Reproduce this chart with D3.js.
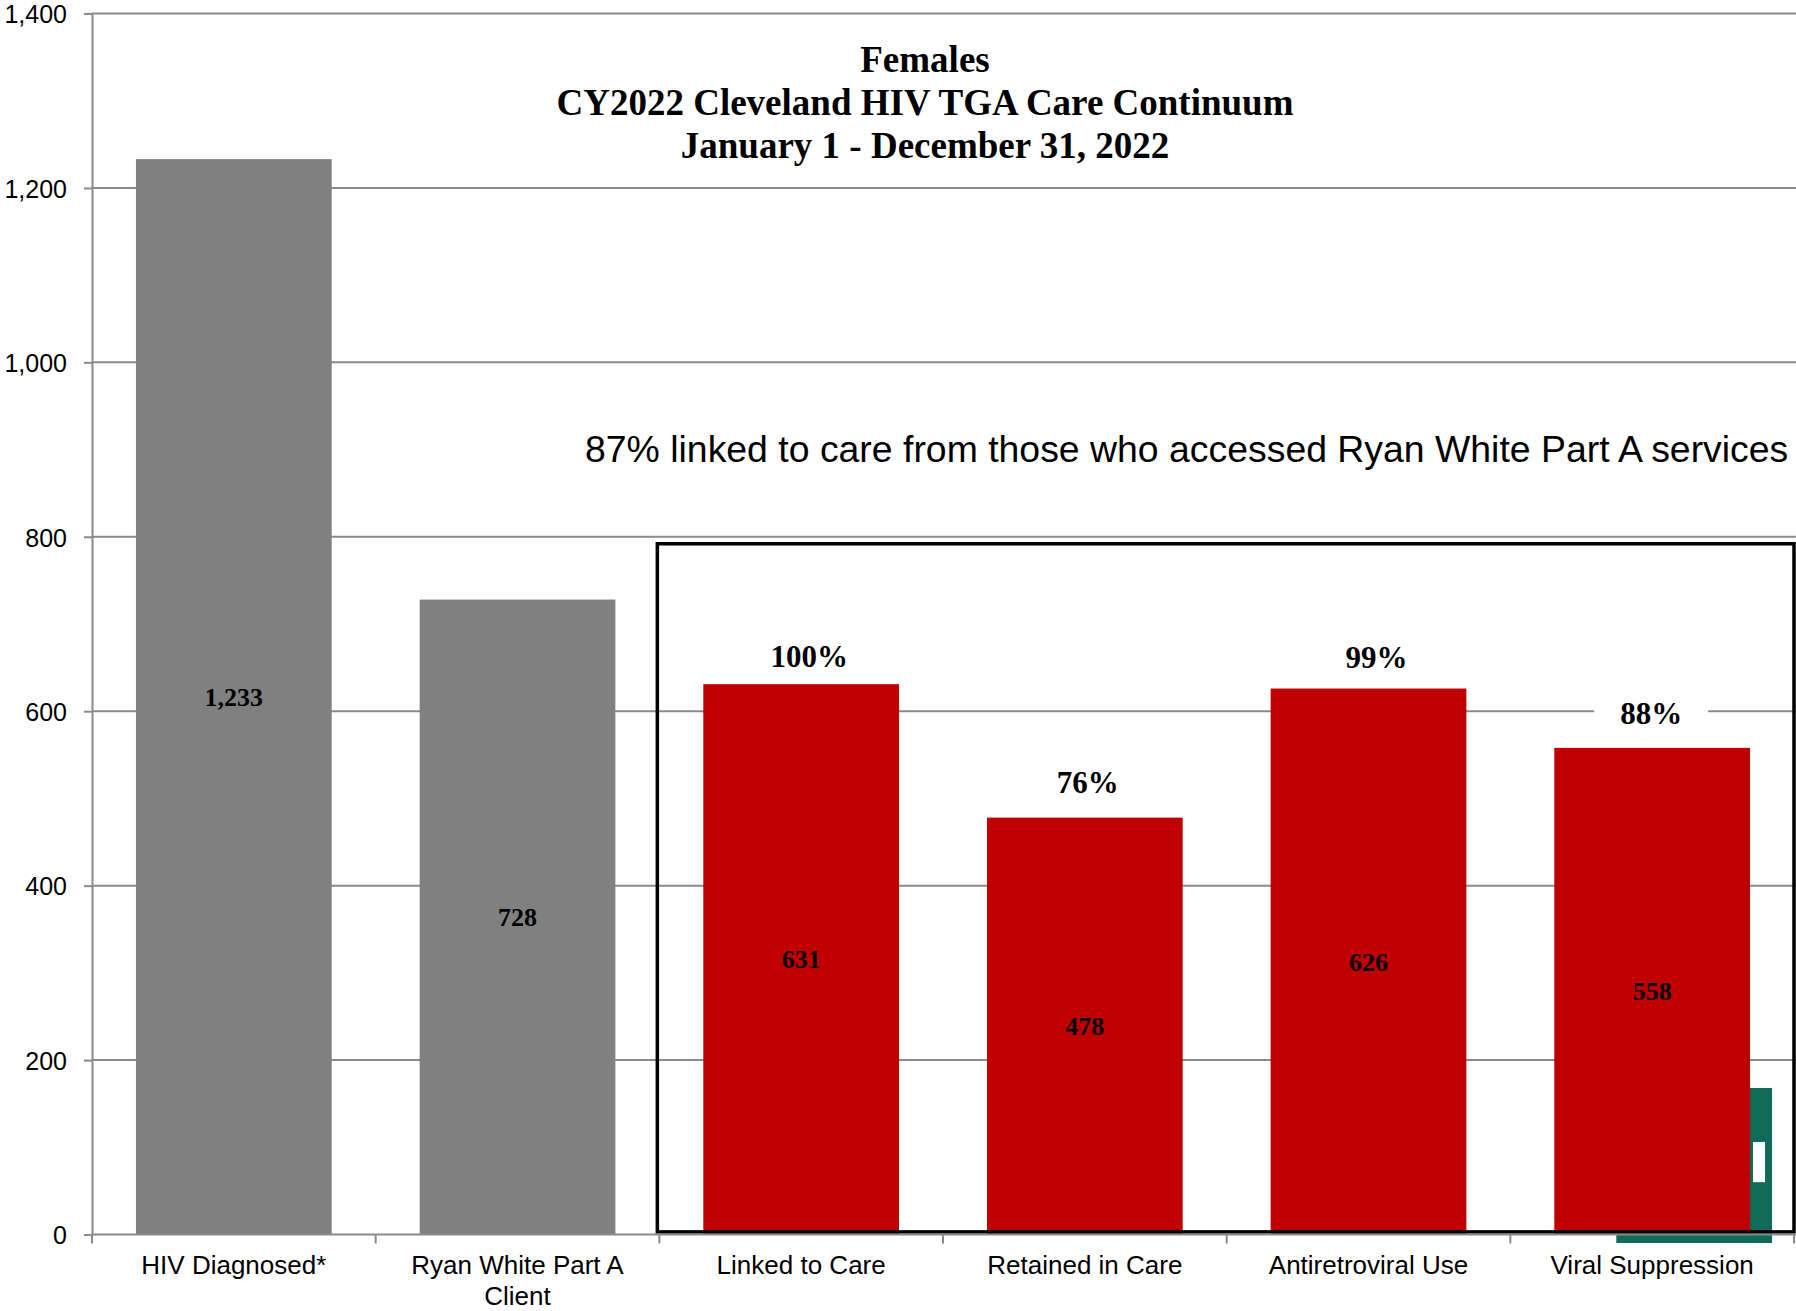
<!DOCTYPE html>
<html>
<head>
<meta charset="utf-8">
<script src="https://cdn.jsdelivr.net/npm/d3@7/dist/d3.min.js"></script>
<style>
  html, body { margin: 0; padding: 0; background: #fff; }
  svg { display: block; }
</style>
</head>
<body>
<div id="chart"></div>
<script>
// Care continuum stages and counts
const categories = ["HIV Diagnosed*", "Ryan White Part A\nClient", "Linked to Care",
                    "Retained in Care", "Antiretroviral Use", "Viral Suppression"];
const counts = [1233, 728, 631, 478, 626, 558];
const countLabels = ["1,233", "728", "631", "478", "626", "558"];
// Percentages shown above the Part A stages (null = no label)
const percents = [null, null, 100, 76, 99, 88];
const yTicks = [0, 200, 400, 600, 800, 1000, 1200, 1400];
const titleLines = ["Females", "CY2022 Cleveland HIV TGA Care Continuum", "January 1 - December 31, 2022"];
const note = "87% linked to care from those who accessed Ryan White Part A services";

(function () {
const W = 1796, H = 1311;
const plotL = 92, plotR = 1794, plotT = 13.5, plotB = 1234.5;
const GREY = "#808080", RED = "#c00000", GRID = "#8a8a8a";
const SANS = "'Liberation Sans', Arial, sans-serif";
const SERIF = "'Liberation Serif', 'Times New Roman', serif";
// hand-placed nudges for the percent call-outs
const pctNudge = {2: [8, 7], 3: [3, -1], 4: [8, 3], 5: [-1, 0]};

const svg = d3.select("#chart").append("svg").attr("width", W).attr("height", H);

const x = d3.scaleBand().domain(categories).range([plotL, plotR])
  .paddingInner(0.31).paddingOuter(0.155);
const y = d3.scaleLinear().domain([0, 1400]).range([plotB, plotT]);

// Horizontal gridlines
svg.append("g").selectAll("line").data(yTicks.filter(d => d > 0)).join("line")
  .attr("x1", plotL).attr("x2", W).attr("y1", d => y(d)).attr("y2", d => y(d))
  .attr("stroke", GRID).attr("stroke-width", 2);

// Y axis
const yAxis = svg.append("g").attr("transform", `translate(${plotL},0)`)
  .call(d3.axisLeft(y).tickValues(yTicks).tickSize(8).tickPadding(17).tickFormat(d3.format(",")));
yAxis.select(".domain").attr("stroke", GRID).attr("stroke-width", 2);
yAxis.selectAll(".tick line").attr("stroke", GRID).attr("stroke-width", 2);
yAxis.selectAll(".tick text").attr("font-family", SANS).attr("font-size", 25)
  .attr("dy", "0.37em").attr("fill", "#000");

// Green emblem sitting behind the last bar
const lastCat = categories[categories.length - 1];
const gx0 = x(lastCat) + 62, gx1 = x(lastCat) + x.bandwidth() + 22;
svg.append("rect").attr("x", gx0).attr("y", y(168)).attr("width", gx1 - gx0)
  .attr("height", plotB + 8.5 - y(168)).attr("fill", "#0f6b58");
svg.append("rect").attr("x", x(lastCat) + x.bandwidth() + 3).attr("y", y(106))
  .attr("width", 12).attr("height", y(60) - y(106)).attr("fill", "#fff");

// Bars
svg.append("g").selectAll("rect").data(counts).join("rect")
  .attr("x", (d, i) => x(categories[i])).attr("width", x.bandwidth())
  .attr("y", d => y(d)).attr("height", d => plotB - y(d))
  .attr("fill", (d, i) => i < 2 ? GREY : RED);

// Count labels centred in bars
svg.append("g").selectAll("text").data(counts).join("text")
  .attr("x", (d, i) => x(categories[i]) + x.bandwidth() / 2)
  .attr("y", d => (y(d) + plotB) / 2 + 9)
  .attr("text-anchor", "middle").attr("font-family", SERIF).attr("font-weight", "bold")
  .attr("font-size", 26).text((d, i) => countLabels[i]);

// Percent labels above bars (white backing)
const pg = svg.append("g").selectAll("g").data(percents.map((p, i) => ({p, i})).filter(d => d.p !== null))
  .join("g")
  .attr("transform", d => {
    const [dx, dy] = pctNudge[d.i] || [0, 0];
    return `translate(${x(categories[d.i]) + x.bandwidth() / 2 + dx},${y(counts[d.i]) - 24 + dy})`;
  });
pg.append("rect").attr("x", -57).attr("y", -32).attr("width", 114).attr("height", 40).attr("fill", "#fff");
pg.append("text").attr("text-anchor", "middle").attr("font-family", SERIF).attr("font-weight", "bold")
  .attr("font-size", 31).text(d => d.p + "%");

// Box framing the Part A stages
const bx0 = x(categories[2]) - x.step() * x.paddingInner() / 2 - 2;
svg.append("rect").attr("x", bx0).attr("y", y(792))
  .attr("width", plotR - bx0).attr("height", y(3) - y(792))
  .attr("fill", "none").attr("stroke", "#000").attr("stroke-width", 3.5);

// X axis baseline and ticks
svg.append("line").attr("x1", plotL).attr("x2", W).attr("y1", plotB).attr("y2", plotB)
  .attr("stroke", GRID).attr("stroke-width", 2);
const bounds = d3.range(categories.length + 1).map(i => plotL + i * x.step());
svg.append("g").selectAll("line").data(bounds).join("line")
  .attr("x1", d => d).attr("x2", d => d).attr("y1", plotB).attr("y2", plotB + 9)
  .attr("stroke", GRID).attr("stroke-width", 2);

// Category labels
const xl = svg.append("g").selectAll("text").data(categories).join("text")
  .attr("x", d => x(d) + x.bandwidth() / 2).attr("y", plotB + 39)
  .attr("text-anchor", "middle").attr("font-family", SANS).attr("font-size", 26);
xl.each(function(d) {
  const t = d3.select(this);
  d.split("\n").forEach((line, k) => {
    t.append("tspan").attr("x", x(d) + x.bandwidth() / 2).attr("dy", k === 0 ? 0 : 31).text(line);
  });
});

// Title
svg.append("g").selectAll("text").data(titleLines).join("text")
  .attr("x", 925).attr("y", (d, i) => 72 + i * 43)
  .attr("text-anchor", "middle").attr("font-family", SERIF).attr("font-weight", "bold")
  .attr("font-size", 37).text(d => d);

// Annotation
svg.append("text").attr("x", 585).attr("y", 462)
  .attr("font-family", SANS).attr("font-size", 37.4).text(note);
})();
</script>
</body>
</html>
